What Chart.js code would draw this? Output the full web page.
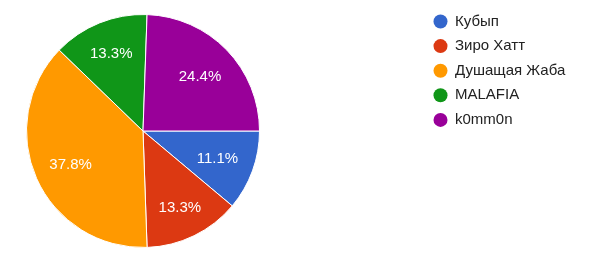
<!DOCTYPE html>
<html>
<head>
<meta charset="utf-8">
<script src="https://cdn.jsdelivr.net/npm/chart.js@4"></script>
<style>
  html, body { margin: 0; padding: 0; background: #fff; }
  #wrap { width: 609px; height: 260px; position: relative; }
</style>
</head>
<body>
<div id="wrap"><canvas id="pie"></canvas></div>
<script>
const labels = ["Кубып", "Зиро Хатт", "Душащая Жаба", "MALAFIA", "k0mm0n"];
const votes = [5, 6, 17, 6, 11];
const colors = ["#3366cc", "#dc3912", "#ff9900", "#109618", "#990099"];

/* ===== SLICE LABELS ===== */
const sliceLabels = {
  id: "sliceLabels",
  afterDatasetsDraw(chart) {
    const ctx = chart.ctx;
    const meta = chart.getDatasetMeta(0);
    const total = votes.reduce((a, b) => a + b, 0);
    ctx.save();
    ctx.font = "15px 'Liberation Sans', Arial, sans-serif";
    ctx.fillStyle = "#ffffff";
    ctx.textAlign = "center";
    ctx.textBaseline = "alphabetic";
    meta.data.forEach((arc, i) => {
      const mid = (arc.startAngle + arc.endAngle) / 2;
      const sv = Math.abs(Math.sin(mid));
      // labels near top/bottom sit a bit further out
      const r = arc.outerRadius * 0.68 + 24 * Math.max(0, sv - 0.7);
      const pct = (votes[i] / total * 100).toFixed(1) + "%";
      ctx.fillText(pct, arc.x + Math.cos(mid) * r, arc.y + Math.sin(mid) * r + 5.4);
    });
    ctx.restore();
  }
};

/* ===== LEGEND ===== */
const sideLegend = {
  id: "sideLegend",
  afterDraw(chart) {
    const ctx = chart.ctx;
    ctx.save();
    ctx.font = "15px 'Liberation Sans', Arial, sans-serif";
    ctx.textBaseline = "middle";
    labels.forEach((name, i) => {
      const y = 21.5 + i * 24.6;
      ctx.fillStyle = colors[i];
      ctx.beginPath();
      ctx.arc(440.5, y, 7, 0, Math.PI * 2);
      ctx.fill();
      ctx.fillStyle = "#222222";
      ctx.fillText(name, 455, y);
    });
    ctx.restore();
  }
};

new Chart(document.getElementById("pie"), {
  type: "pie",
  data: {
    labels: labels,
    datasets: [{
      data: votes,
      backgroundColor: colors,
      borderColor: "#ffffff",
      borderWidth: 1
    }]
  },
  options: {
    responsive: true,
    maintainAspectRatio: false,
    animation: false,
    rotation: 90,
    layout: { padding: { left: 26, right: 349, top: 14, bottom: 12 } },
    plugins: { legend: { display: false }, tooltip: { enabled: false } }
  },
  plugins: [sliceLabels, sideLegend]
});
</script>
</body>
</html>
